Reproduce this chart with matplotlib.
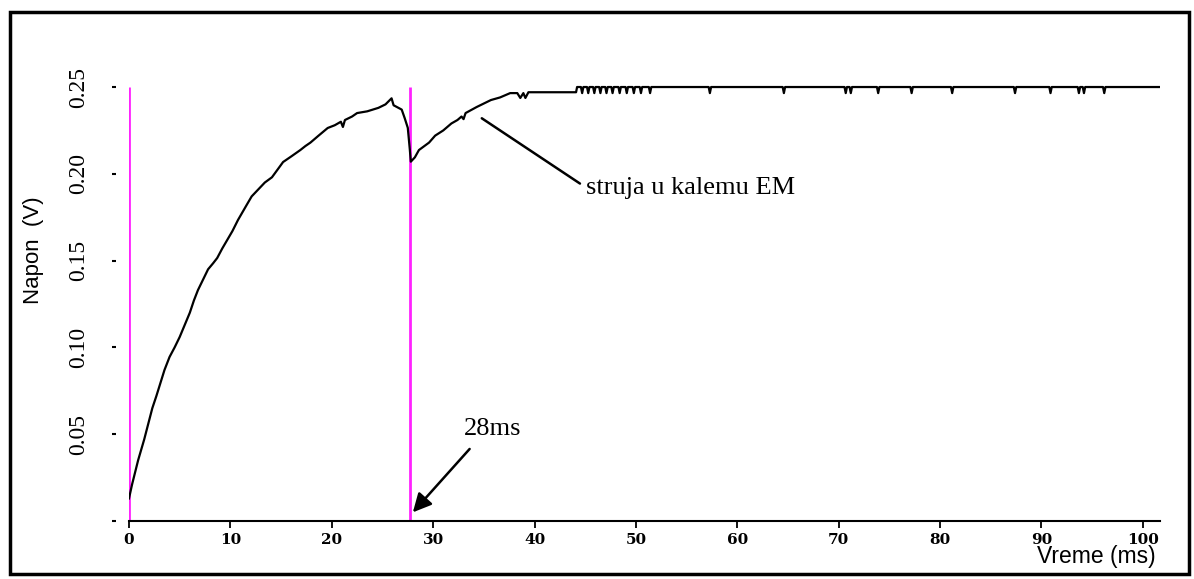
import matplotlib
matplotlib.use("Agg")
import matplotlib.pyplot as plt
from matplotlib.patches import Rectangle
from matplotlib.transforms import Bbox, TransformedBbox, blended_transform_factory

# measured trace (ms, V)
t_ms = [0.0, 0.3, 0.6, 0.9, 1.2, 1.5, 1.9, 2.3, 2.7, 3.1,
        3.5, 4.0, 4.5, 5.0, 5.5, 6.0, 6.4, 6.8, 7.3, 7.8,
        8.3, 8.7, 9.2, 9.7, 10.2, 10.75, 11.2, 11.6, 12.1, 12.7,
        13.4, 14.1, 14.6, 15.2, 16.0, 16.9, 17.4, 17.9, 18.7, 19.6,
        20.3, 20.9, 21.1, 21.3, 22.0, 22.5, 23.5, 24.6, 25.3, 25.9,
        26.1, 26.9, 27.2, 27.5, 27.7,
        27.8, 28.2, 28.6, 29.6, 30.2, 31.0, 31.8, 32.4, 32.8, 33.0,
        33.2, 34.3, 35.0, 35.7, 36.6, 37.6, 38.3, 38.6, 38.9, 39.1,
        39.4, 44.1, 44.2]
napon = [0.013, 0.021, 0.028, 0.035, 0.041, 0.047, 0.056, 0.065, 0.072, 0.0795,
         0.087, 0.0945, 0.100, 0.106, 0.113, 0.120, 0.127, 0.133, 0.139, 0.145,
         0.1485, 0.1515, 0.157, 0.162, 0.167, 0.1734, 0.178, 0.182, 0.187, 0.1907,
         0.195, 0.198, 0.202, 0.2068, 0.210, 0.2137, 0.216, 0.218, 0.222, 0.2264,
         0.228, 0.230, 0.227, 0.231, 0.233, 0.235, 0.236, 0.238, 0.240, 0.2435,
         0.2395, 0.237, 0.232, 0.2265, 0.214,
         0.207, 0.2095, 0.2137, 0.218, 0.222, 0.225, 0.229, 0.231, 0.233, 0.2315,
         0.235, 0.2385, 0.2405, 0.2425, 0.244, 0.2465, 0.2465, 0.2437, 0.2465, 0.2437,
         0.247, 0.247, 0.25]

# short one-step dips on the flat 0.25 V part
dip_ms = [44.7, 45.3, 45.9, 46.5, 47.1, 47.7, 48.4, 49.1, 49.8, 50.5, 51.4,
          57.3, 64.6, 70.7, 71.2, 73.9, 77.2, 81.2, 87.4, 90.9, 93.7, 94.2, 96.2]
dip_v = 0.2465
flat_v = 0.25
t_end = 101.7

markers_ms = [0, 27.7]
xticks = [0, 10, 20, 30, 40, 50, 60, 70, 80, 90, 100]
yticks = [0, 0.05, 0.10, 0.15, 0.20, 0.25]
ylabels = ['', '0.05', '0.10', '0.15', '0.20', '0.25']

t_all = list(t_ms)
v_all = list(napon)
for d in dip_ms:
    t_all += [d - 0.12, d, d + 0.12]
    v_all += [flat_v, dip_v, flat_v]
t_all.append(t_end)
v_all.append(flat_v)

W, H = 1194, 579
fig = plt.figure(figsize=(W / 100, H / 100), dpi=100)
ax = fig.add_axes([129 / W, 58 / H, 1031 / W, 443 / H])

ax.vlines(markers_ms, 0, 0.25, color='#ff22ff', lw=2, zorder=2)
ax.plot(t_all, v_all, color='black', lw=1.6, zorder=3)

ax.set_xlim(0, t_end)
ax.set_ylim(0, 0.2552)

for s in ['top', 'right', 'left']:
    ax.spines[s].set_visible(False)
ax.spines['left'].set_position(('outward', 9.5))
ax.spines['bottom'].set_linewidth(1.5)

ax.set_xticks(xticks)
ax.set_xticklabels([str(x) for x in xticks], family='DejaVu Serif',
                   fontweight='bold', fontsize=11)
ax.set_yticks(yticks)
ax.set_yticklabels(ylabels, family='Liberation Serif', fontsize=17,
                   rotation=90, va='center')
ax.tick_params(axis='x', direction='out', length=5, width=1.3, pad=4)
ax.tick_params(axis='y', direction='out', length=3, width=1.5, pad=16)

# last tick label is cut at the right edge of the plot
clip = TransformedBbox(Bbox([[-0.1, 0], [1, 1]]),
                       blended_transform_factory(ax.transAxes, fig.transFigure))
for tk in ax.xaxis.get_major_ticks():
    tk.label1.set_clip_box(clip)
    tk.label1.set_clip_on(True)

fig.text(33 / W, 1 - 250 / H, 'Napon  (V)', family='Liberation Sans',
         fontsize=16, rotation=90, ha='center', va='center')
fig.text(1156 / W, 1 - 556 / H, 'Vreme (ms)', family='Liberation Sans',
         fontsize=16.5, ha='right', va='center')

ax.annotate('', xy=(28.0, 0.005), xytext=(33.6, 0.0415),
            arrowprops=dict(arrowstyle='-|>', color='black', lw=1.8,
                            mutation_scale=28, shrinkA=0, shrinkB=0))
ax.text(35.9, 0.053, '28ms', family='Liberation Serif', fontsize=19,
        ha='center', va='center')
ax.annotate('struja u kalemu EM', xy=(34.8, 0.232), xytext=(45.1, 0.192),
            family='Liberation Serif', fontsize=19, ha='left', va='center',
            arrowprops=dict(arrowstyle='-', color='black', lw=1.8,
                            shrinkA=3, shrinkB=0, relpos=(0, 0.5)))

fig.patches.append(Rectangle((10 / W, 5 / H), 1179 / W, 562 / H,
                             transform=fig.transFigure, fill=False,
                             ec='black', lw=2.5))

fig.savefig('out.png', dpi=100)
